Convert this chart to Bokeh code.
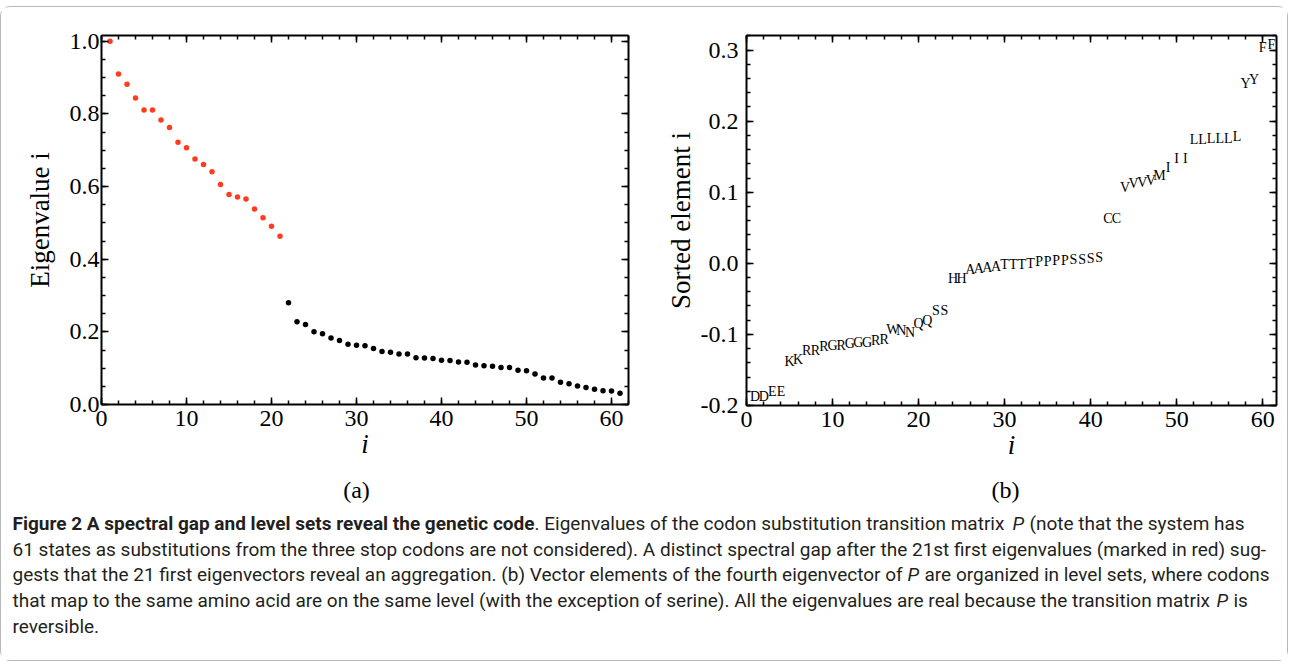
from bokeh.plotting import figure
from bokeh.models import (Range1d, FixedTicker, PrintfTickFormatter, LinearAxis, ColumnDataSource,
                          CustomLabelingPolicy)
from bokeh.layouts import column, row
from bokeh.embed import file_html
from bokeh.resources import INLINE
from bokeh.core.properties import value

# ---------------- data ----------------
eig_index = list(range(1, 62))
eig_values = [1.000, 0.910, 0.882, 0.844, 0.811, 0.811, 0.783, 0.763, 0.722, 0.707,
              0.676, 0.661, 0.641, 0.606, 0.578, 0.571, 0.566, 0.538, 0.514, 0.491,
              0.463,
              0.280, 0.228, 0.220, 0.200, 0.195, 0.183, 0.176, 0.166, 0.163, 0.162,
              0.154, 0.146, 0.144, 0.139, 0.139, 0.129, 0.128, 0.127, 0.122, 0.121,
              0.117, 0.116, 0.109, 0.107, 0.105, 0.102, 0.102, 0.094, 0.093, 0.084,
              0.073, 0.073, 0.061, 0.057, 0.051, 0.047, 0.042, 0.038, 0.037, 0.031]
n_gap = 21  # first eigenvalues before the spectral gap (red)

codon_index = list(range(1, 62))
codon_aa = list("DDEEKKRRRGRGGGRRWNNQQSSHHAAAATTTTPPPPSSSSCCVVVVMIIILLLLLLYYFF")
codon_values = [-0.188, -0.188, -0.181, -0.180, -0.138, -0.135, -0.123, -0.122,
                -0.117, -0.116, -0.115, -0.113, -0.112, -0.111, -0.109, -0.107,
                -0.093, -0.095, -0.098, -0.084, -0.081, -0.066, -0.066,
                -0.022, -0.022,
                -0.008, -0.007, -0.006, -0.004,
                -0.002, -0.002, -0.001, 0.000,
                0.002, 0.002, 0.004, 0.004,
                0.006, 0.006, 0.007, 0.008,
                0.063, 0.063,
                0.107, 0.112, 0.114, 0.117, 0.123,
                0.135, 0.147, 0.147,
                0.174, 0.174, 0.175, 0.175, 0.176, 0.178,
                0.253, 0.259, 0.303, 0.308]

xticks = [0, 10, 20, 30, 40, 50, 60]
a_yticks = [0.0, 0.2, 0.4, 0.6, 0.8, 1.0]
b_yticks = [-0.2, -0.1, 0.0, 0.1, 0.2, 0.3]

SERIF = "Liberation Serif"
RED = "#ff3c1e"
NO_LABELS = CustomLabelingPolicy(code="return new Set()")


def style_axis(ax, show_labels=True):
    ax.axis_line_width = 2
    ax.axis_line_color = "black"
    ax.major_tick_in = 7
    ax.major_tick_out = 0
    ax.minor_tick_in = 4
    ax.minor_tick_out = 0
    ax.major_tick_line_width = 1.5
    ax.minor_tick_line_width = 1.5
    ax.major_tick_line_color = "black"
    ax.minor_tick_line_color = "black"
    ax.major_label_text_font = SERIF
    ax.major_label_text_color = "black"
    ax.major_label_text_font_size = "24px"
    ax.axis_label_text_font = SERIF
    ax.axis_label_text_font_size = "27px"
    ax.axis_label_text_font_style = "normal"
    ax.axis_label_text_color = "black"
    if not show_labels:
        ax.major_label_policy = NO_LABELS
        ax.major_label_text_font_size = "1px"
        ax.major_label_standoff = 0


def add_frame_axes(p, xt, xminor, yt, yminor, xlabel, ylabel, yfmt, ystand, ylabstand):
    xb = LinearAxis(ticker=FixedTicker(ticks=xt, minor_ticks=xminor), axis_label=xlabel)
    style_axis(xb)
    xb.axis_label_text_font_style = "italic"
    xb.major_label_standoff = 6
    xb.axis_label_standoff = 0
    yl = LinearAxis(ticker=FixedTicker(ticks=yt, minor_ticks=yminor), axis_label=ylabel,
                    formatter=PrintfTickFormatter(format=yfmt))
    style_axis(yl)
    yl.major_label_standoff = ystand
    yl.axis_label_standoff = ylabstand
    xa = LinearAxis(ticker=FixedTicker(ticks=xt, minor_ticks=xminor))
    style_axis(xa, False)
    yr = LinearAxis(ticker=FixedTicker(ticks=yt, minor_ticks=yminor))
    style_axis(yr, False)
    p.add_layout(xb, "below")
    p.add_layout(yl, "left")
    p.add_layout(xa, "above")
    p.add_layout(yr, "right")


xminor = list(range(0, 63, 2))

# ---------------- panel (a) ----------------
fa = figure(frame_width=527, frame_height=369, x_range=Range1d(0, 62), y_range=Range1d(0, 1.016),
            output_backend="svg", toolbar_location=None, x_axis_type=None, y_axis_type=None,
            min_border_left=100, min_border_right=11, min_border_top=28, min_border_bottom=70)
fa.grid.visible = False
fa.outline_line_color = None
add_frame_axes(fa, xticks, xminor, a_yticks, [round(0.05 * k, 2) for k in range(0, 21)],
               "i", "Eigenvalue i", "%.1f", 2, 12)
colors = [RED if k < n_gap else "black" for k in range(len(eig_index))]
src_a = ColumnDataSource(dict(x=eig_index, y=eig_values, c=colors))
fa.scatter("x", "y", source=src_a, size=5.5, fill_color="c", line_color=None)

# ---------------- panel (b) ----------------
fb = figure(frame_width=530, frame_height=370, x_range=Range1d(0, 61.6), y_range=Range1d(-0.2, 0.3205),
            output_backend="svg", toolbar_location=None, x_axis_type=None, y_axis_type=None,
            min_border_left=107, min_border_right=11, min_border_top=27, min_border_bottom=70)
fb.grid.visible = False
fb.outline_line_color = None
add_frame_axes(fb, xticks, xminor, b_yticks, [round(-0.2 + 0.02 * k, 2) for k in range(0, 27)],
               "i", "Sorted element i", "%.1f", 8, 2)
src_b = ColumnDataSource(dict(x=codon_index, y=codon_values, t=codon_aa))
fb.text("x", "y", text="t", source=src_b, text_font=value(SERIF), text_font_size="14px",
        text_align="center", text_baseline="middle", text_color="black")

# ---------------- caption area (page pixel coordinates) ----------------
fc = figure(width=1286, height=186, x_range=Range1d(2, 1288), y_range=Range1d(661, 475),
            output_backend="svg", toolbar_location=None, x_axis_type=None, y_axis_type=None,
            min_border=0)
fc.grid.visible = False
fc.outline_line_color = None

fc.text(x=[357, 1006], y=[490, 490], text=["(a)", "(b)"], text_font=value(SERIF),
        text_font_size="24px", text_align="center", text_baseline="middle", text_color="black")

CAP = "Roboto"
CS = "19px"
CC = "#231f20"
seg_x = [13, 535, 1013, 1030,
         13,
         13, 908, 925,
         13, 1217, 1234,
         13]
seg_y = [524, 524, 524, 524,
         550,
         575, 575, 575,
         601, 601, 601,
         627]
seg_t = ["Figure 2 A spectral gap and level sets reveal the genetic code",
         ". Eigenvalues of the codon substitution transition matrix",
         "P", "(note that the system has",
         "61 states as substitutions from the three stop codons are not considered). A distinct spectral gap after the 21st first eigenvalues (marked in red) sug-",
         "gests that the 21 first eigenvectors reveal an aggregation. (b) Vector elements of the fourth eigenvector of",
         "P", "are organized in level sets, where codons",
         "that map to the same amino acid are on the same level (with the exception of serine). All the eigenvalues are real because the transition matrix",
         "P", "is",
         "reversible."]
seg_style = ["bold", "normal", "italic", "normal",
             "normal",
             "normal", "italic", "normal",
             "normal", "italic", "normal",
             "normal"]
src_c = ColumnDataSource(dict(x=seg_x, y=seg_y, t=seg_t, s=seg_style))
fc.text("x", "y", text="t", source=src_c, text_font=value(CAP), text_font_size=CS,
        text_font_style="s", text_align="left", text_baseline="middle", text_color=CC)

layout = column(row(fa, fb), fc, margin=(6, 0, 0, 0),
                styles={"border": "1px solid #b8b8b8", "border-radius": "10px"})

open("out.html", "w").write(file_html(layout, INLINE))
